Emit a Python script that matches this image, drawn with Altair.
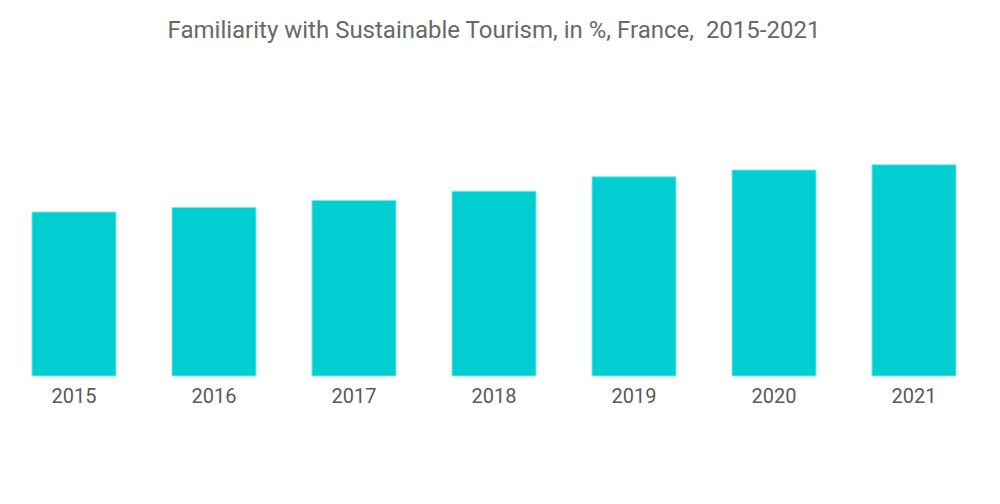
import altair as alt
import pandas as pd

years = ["2015", "2016", "2017", "2018", "2019", "2020", "2021"]
familiarity = [41.0, 42.1, 43.9, 46.2, 49.8, 51.5, 52.8]

df = pd.DataFrame({"year": years, "value": familiarity})

chart = alt.Chart(df).mark_bar(
    color="#00CED1", stroke="#7FE5E7", strokeWidth=1
).encode(
    x=alt.X("year:N", sort=years,
            scale=alt.Scale(paddingInner=0.4, paddingOuter=0.1714),
            axis=alt.Axis(title=None, labelAngle=0, domain=False, ticks=False,
                          labelFontSize=20, labelColor="#595959", labelFont="Roboto",
                          labelPadding=10)),
    y=alt.Y("value:Q", scale=alt.Scale(domain=[0, 79], nice=False, zero=True),
            axis=None),
).properties(
    width=972,
    height=316,
    title=alt.TitleParams(
        "Familiarity with Sustainable Tourism, in %, France,\u00a0 2015-2021",
        fontSize=24, color="#686868", font="Roboto", fontWeight="normal",
        anchor="middle", offset=17,
    ),
    autosize=alt.AutoSizeParams(type="none"),
    padding={"left": 0, "top": 52, "right": 0, "bottom": 60},
).configure_view(stroke=None)

chart.save("out.html", embed_options={"renderer": "svg", "actions": False})
